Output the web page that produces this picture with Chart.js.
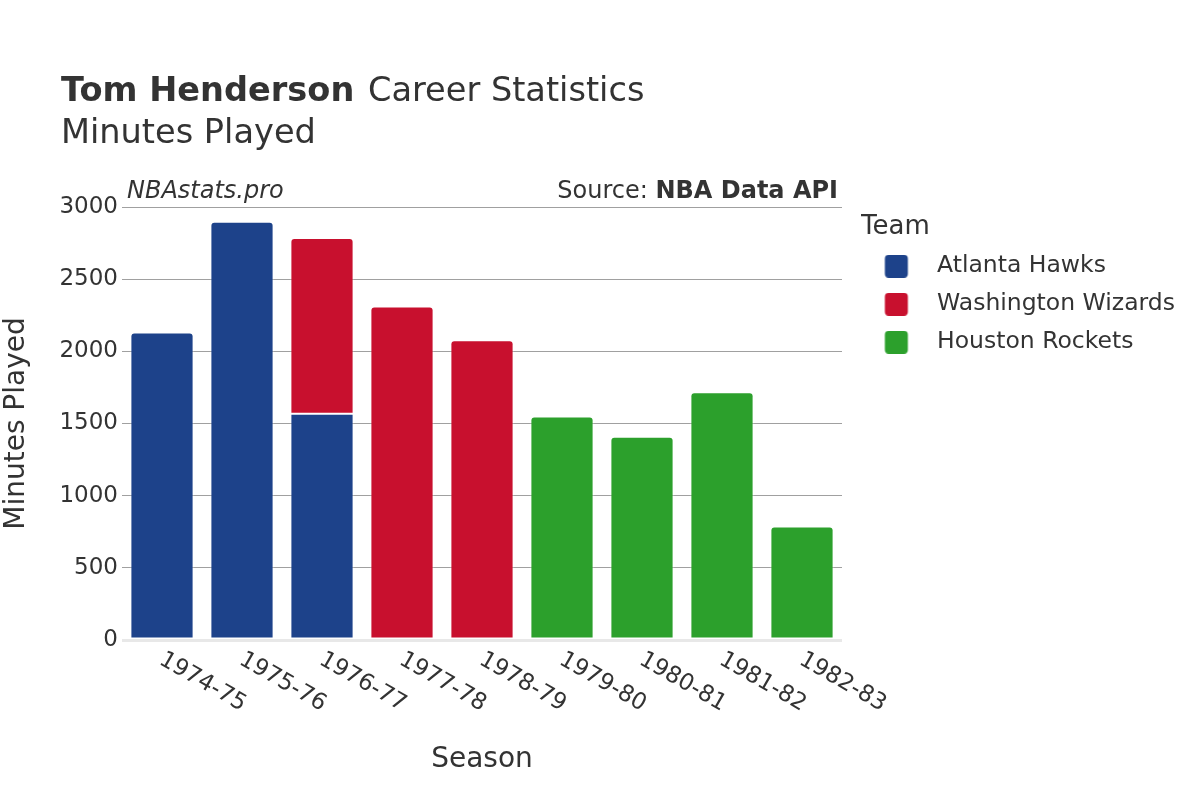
<!DOCTYPE html>
<html>
<head>
<meta charset="utf-8">
<script src="https://cdn.jsdelivr.net/npm/chart.js@4.4.1/dist/chart.umd.min.js"></script>
<style>
  body { margin: 0; background: #fff; font-family: "DejaVu Sans", sans-serif; color: #333; }
  #wrap { position: relative; width: 1200px; height: 800px; }
  canvas { position: absolute; left: 0; top: 0; }
  .txt { position: absolute; white-space: nowrap; }
</style>
</head>
<body>
<div id="wrap">
  <canvas id="chart" width="1200" height="800"></canvas>
  <div class="txt" style="left:61px; top:73px; font-size:33.6px; line-height:33px;"><b>Tom Henderson</b> <span style="margin-left:3px">Career Statistics</span></div>
  <div class="txt" style="left:61px; top:115px; font-size:33.6px; line-height:33px;">Minutes Played</div>
  <div class="txt" style="left:127px; top:178px; font-size:24px; line-height:24px; font-style:italic;">NBAstats.pro</div>
  <div class="txt" style="right:362px; top:178px; font-size:24px; line-height:24px;">Source: <b>NBA Data API</b></div>
</div>
<script>
const seasons = ["1974-75", "1975-76", "1976-77", "1977-78", "1978-79", "1979-80", "1980-81", "1981-82", "1982-83"];
const atlantaHawks = [2130, 2898, 1567, null, null, null, null, null, null];
const washingtonWizards = [null, null, 1218, 2310, 2076, null, null, null, null];
const houstonRockets = [null, null, null, null, null, 1548, 1409, 1716, 786];
const teamNames = ["Atlanta Hawks", "Washington Wizards", "Houston Rockets"];
const teamColors = ["#1D428A", "#C8102E", "#2CA02C"];
const yTickValues = [0, 500, 1000, 1500, 2000, 2500, 3000];

const FONT = "'DejaVu Sans', sans-serif";
const teamData = [atlantaHawks, washingtonWizards, houstonRockets];

// only the highest segment of each stack gets the rounded top
function isTopOfStack(d, i) {
    for (let k = d + 1; k < teamData.length; k++) {
        if (teamData[k][i] != null) return false;
    }
    return true;
}

// legend marker: wide transparent image with the square sitting at its left,
// so the label text lands further right than a plain box would put it
function swatch(color) {
    const c = document.createElement("canvas");
    c.width = 50;
    c.height = 23;
    const g = c.getContext("2d");
    g.fillStyle = color;
    g.beginPath();
    g.roundRect(9.5, 0, 23, 23, 4);
    g.fill();
    return c;
}

const placeLegend = {
    id: "placeLegend",
    beforeDraw(chart) {
        const lg = chart.legend;
        lg.left = 861;
        lg.top = 214;
        lg.width = 339;
        lg.right = 1200;
        lg.bottom = 800;
        lg.height = 586;
    }
};

const slantedSeasons = {
    id: "slantedSeasons",
    afterDraw(chart) {
        const { ctx, scales: { x }, chartArea } = chart;
        ctx.save();
        ctx.fillStyle = "#333";
        ctx.font = "23px " + FONT;
        ctx.textAlign = "left";
        ctx.textBaseline = "middle";
        seasons.forEach((s, i) => {
            ctx.save();
            ctx.translate(x.getPixelForValue(i) - 1, chartArea.bottom + 18);
            ctx.rotate(Math.PI / 6);
            ctx.fillText(s, 0, 0);
            ctx.restore();
        });
        ctx.restore();
    }
};

const ctx = document.getElementById("chart").getContext("2d");

new Chart(ctx, {
    type: "bar",
    data: {
        labels: seasons,
        datasets: teamNames.map((name, d) => ({
            label: name,
            data: teamData[d],
            backgroundColor: teamColors[d],
            borderColor: "rgba(255, 255, 255, 0.4)",
            borderWidth: 1,
            borderSkipped: false,
            borderRadius: c => isTopOfStack(d, c.dataIndex) ? { topLeft: 4, topRight: 4 } : 0,
            barPercentage: 0.79,
            categoryPercentage: 1
        }))
    },
    options: {
        responsive: false,
        animation: false,
        layout: {
            padding: { top: 207, left: 0, right: 358, bottom: 0 }
        },
        scales: {
            x: {
                stacked: true,
                grid: { display: false },
                border: { display: false },
                ticks: { display: false },
                afterFit: s => { s.height = 160; },
                title: {
                    display: true,
                    text: "Season",
                    color: "#333",
                    font: { family: FONT, size: 28 },
                    padding: { top: 0, bottom: 23 }
                }
            },
            y: {
                stacked: true,
                min: 0,
                max: 3000,
                afterBuildTicks: s => { s.ticks = yTickValues.map(v => ({ value: v })); },
                afterFit: s => { s.width = 122; },
                border: { display: false },
                grid: {
                    drawTicks: false,
                    color: c => c.tick && c.tick.value === 0 ? "#e8e8e8" : "#a0a0a0",
                    lineWidth: c => c.tick && c.tick.value === 0 ? 3 : 1
                },
                ticks: {
                    padding: 4,
                    color: "#333",
                    font: { family: FONT, size: 23 },
                    callback: v => String(v)
                },
                title: {
                    display: true,
                    text: "Minutes Played",
                    color: "#333",
                    font: { family: FONT, size: 28 },
                    padding: { top: 0, bottom: 0 }
                }
            }
        },
        plugins: {
            legend: {
                position: "chartArea",
                align: "start",
                title: {
                    display: true,
                    text: "Team",
                    position: "start",
                    color: "#333",
                    font: { family: FONT, size: 26, lineHeight: 1 },
                    padding: 0
                },
                labels: {
                    usePointStyle: true,
                    pointStyleWidth: 49.75,
                    padding: 14.5,
                    color: "#333",
                    font: { family: FONT, size: 23.5 },
                    generateLabels: chart => Chart.defaults.plugins.legend.labels.generateLabels(chart)
                        .map((item, i) => Object.assign(item, { pointStyle: swatch(teamColors[i]) }))
                }
            },
            tooltip: { enabled: false }
        }
    },
    plugins: [placeLegend, slantedSeasons]
});
</script>
</body>
</html>
